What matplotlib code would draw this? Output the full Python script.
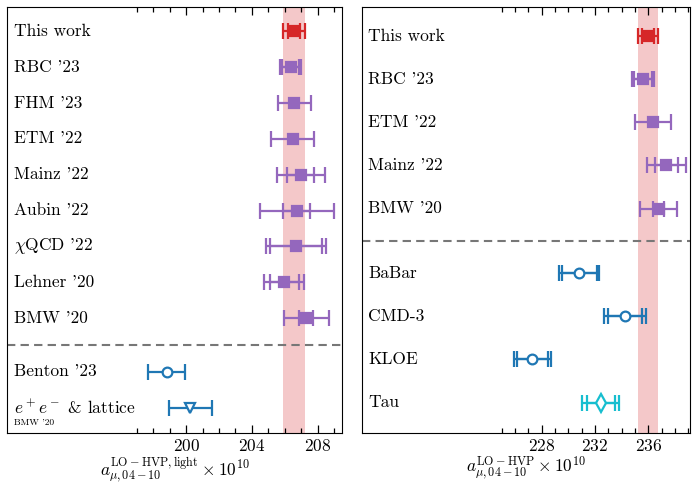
import numpy as np
import matplotlib.pyplot as plt
import matplotlib.transforms as mtransforms

plt.rcParams['font.family'] = 'serif'
plt.rcParams['font.serif'] = ['cmr10']
plt.rcParams['mathtext.fontset'] = 'cm'
plt.rcParams['axes.formatter.use_mathtext'] = True

# --- left panel: light-quark window ---
lat_names_l = ["This work", "RBC '23", "FHM '23", "ETM '22", "Mainz '22",
               "Aubin '22", r"$\chi$QCD '22", "Lehner '20", "BMW '20"]
lat_val_l = [206.56, 206.35, 206.58, 206.48, 206.98, 206.73, 206.70, 205.97, 207.31]
lat_stat_l = [0.38, 0.51, np.nan, np.nan, 0.82, 0.81, 1.57, 0.87, 0.43]
lat_tot_l = [0.66, 0.64, 1.00, 1.31, 1.47, 2.26, 1.82, 1.21, 1.38]

dat_names_l = ["Benton '23", r"$e^+e^-$ & lattice"]
dat_val_l = [198.81, 200.26]
dat_stat_l = [np.nan, np.nan]
dat_tot_l = [1.13, 1.31]
dat_mark_l = ['o', 'v']
dat_col_l = ['#1f77b4', '#1f77b4']

# --- right panel: full window ---
lat_names_r = ["This work", "RBC '23", "ETM '22", "Mainz '22", "BMW '20"]
lat_val_r = [235.99, 235.61, 236.35, 237.35, 236.78]
lat_stat_r = [0.47, 0.65, np.nan, 0.85, 0.42]
lat_tot_r = [0.74, 0.84, 1.35, 1.47, 1.40]

dat_names_r = ["BaBar", "CMD-3", "KLOE", "Tau"]
dat_val_r = [230.81, 234.25, 227.31, 232.44]
dat_stat_r = [1.31, 1.28, 1.19, 1.04]
dat_tot_r = [1.51, 1.55, 1.39, 1.39]
dat_mark_r = ['o', 'o', 'o', 'd']
dat_col_r = ['#1f77b4', '#1f77b4', '#1f77b4', '#17becf']

red = '#d62728'
purple = '#9467bd'
fs = 12.5


def draw_point(ax, x, y, stat, tot, marker, color, filled):
    face = color if filled else 'white'
    ms = 7.5 if marker in ('s', 'v') else (9 if marker == 'd' else 7)
    for err in (tot, stat):
        if np.isnan(err):
            continue
        ax.errorbar(x, y, xerr=err, fmt='none', ecolor=color, elinewidth=1.6,
                    capsize=5.5, capthick=1.6, zorder=3)
    ax.plot(x, y, marker=marker, color=color, markerfacecolor=face,
            markeredgecolor=color, markeredgewidth=1.6, ms=ms, zorder=4)


def panel(ax, lat_names, lat_val, lat_stat, lat_tot,
          dat_names, dat_val, dat_stat, dat_tot, dat_mark, dat_col,
          xlim, major, minor, xlabel):
    trans = mtransforms.blended_transform_factory(ax.transAxes, ax.transData)
    n = len(lat_names)
    # band of this work
    ax.axvspan(lat_val[0] - lat_tot[0], lat_val[0] + lat_tot[0],
               color=red, alpha=0.25, lw=0, zorder=1)
    for i in range(n):
        col = red if i == 0 else purple
        draw_point(ax, lat_val[i], i, lat_stat[i], lat_tot[i], 's', col, True)
        ax.text(0.02, i, lat_names[i], transform=trans, va='center', fontsize=fs)
    ax.axhline(n - 0.25, color='#777777', ls='--', lw=1.5, dashes=(4, 2.5))
    for j in range(len(dat_names)):
        y = n + 0.5 + j
        draw_point(ax, dat_val[j], y, dat_stat[j], dat_tot[j], dat_mark[j],
                   dat_col[j], False)
        ax.text(0.02, y, dat_names[j], transform=trans, va='center', fontsize=fs)
    last = n + 0.5 + len(dat_names) - 1
    ax.set_ylim(last + 0.7, -0.67)
    ax.set_yticks([])
    ax.set_xlim(*xlim)
    ax.set_xticks(major)
    ax.set_xticks(minor, minor=True)
    ax.tick_params(axis='x', which='both', direction='in', top=True,
                   labelsize=fs)
    ax.tick_params(axis='x', which='major', length=6, width=0.9)
    ax.tick_params(axis='x', which='minor', length=3.5, width=0.9)
    ax.set_xlabel(xlabel, fontsize=fs, labelpad=1)
    return trans, last


fig = plt.figure(figsize=(6.93, 4.83), dpi=100)
ax1 = fig.add_axes([0.0101, 0.104, 0.4834, 0.881])
ax2 = fig.add_axes([0.522, 0.104, 0.4737, 0.881])

tr1, last1 = panel(ax1, lat_names_l, lat_val_l, lat_stat_l, lat_tot_l,
                   dat_names_l, dat_val_l, dat_stat_l, dat_tot_l, dat_mark_l, dat_col_l,
                   (189.1, 209.48), [200, 204, 208], np.arange(197, 210),
                   r"$a_{\mu,04-10}^{\rm LO-HVP,light} \times 10^{10}$")
ax1.text(0.02, last1 + 0.42, "BMW '20", transform=tr1, va='center', fontsize=6.8)

panel(ax2, lat_names_r, lat_val_r, lat_stat_r, lat_tot_r,
      dat_names_r, dat_val_r, dat_stat_r, dat_tot_r, dat_mark_r, dat_col_r,
      (214.5, 239.13), [228, 232, 236], np.arange(225, 240),
      r"$a_{\mu,04-10}^{\rm LO-HVP} \times 10^{10}$")

fig.savefig('out.png', dpi=100)
